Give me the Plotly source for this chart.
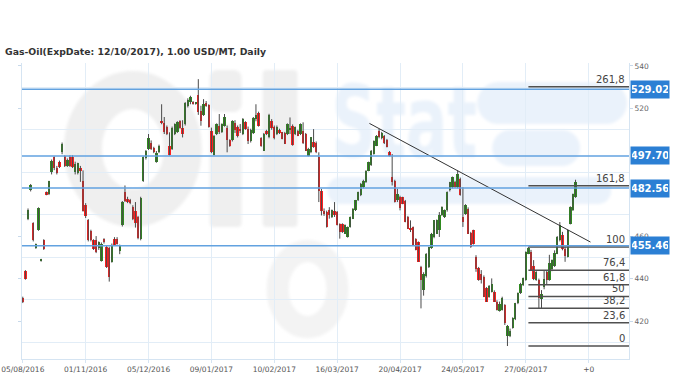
import base64
import plotly.graph_objects as go

# ---------------- data ----------------
title_text = "Gas-Oil(ExpDate: 12/10/2017), 1.00 USD/MT, Daily"

# OHLC per trading bar (bar index 0..211)
open_ = [431, 443.5, 468.2, 481.8, 466, 454.5, 462.8, 448.4, 458, 480.6,
         479.6, 490, 497, 492, 494.8, 499.4, 497.5, 493, 497.4, 497,
         490, 489.5, 492.1, 486, 474.5, 467.5, 462.5, 458, 458, 454.2,
         448.4, 458.4, 455, 454.2, 448, 458.8, 458.8, 453, 465, 480.7,
         477.6, 477, 473.7, 472, 469, 458.5, 486, 496.5, 501, 504,
         501.5, 495, 499.5, 514.2, 513, 511.5, 502.5, 501, 508, 509,
         514, 511, 512.7, 521, 523, 522.8, 522.3, 526.5, 519, 516.8,
         522.8, 521.5, 509.5, 498, 508, 512, 509, 512, 511, 505,
         505, 513, 511.5, 510, 508, 513.5, 510.5, 504.5, 508.5, 515,
         518, 506, 500.2, 509.5, 506.5, 514, 511.5, 508, 510, 508.8,
         508.5, 508, 510, 511.9, 508, 509.5, 508, 509.5, 508, 497.8,
         499.4, 504.1, 504, 497, 481, 472, 471.3, 472.5, 469, 472,
         471.3, 465.8, 465.5, 461.2, 459.6, 464.3, 468.2, 472.1, 476.8, 479.1,
         483, 485.4, 490.8, 493.2, 498.6, 502.5, 509.6, 506, 507, 505,
         499.4, 488, 486.1, 477, 478.3, 478.3, 476.5, 469, 464, 464.3,
         458.8, 457.2, 445.5, 434.6, 441, 445.6, 454.5, 459.6, 461.2, 462.7,
         469.8, 469, 472.1, 481.5, 483, 485.4, 483, 486.9, 469, 470.5,
         472.9, 461.5, 462.7, 450.2, 444.8, 442.4, 440.9, 435.4, 431.5, 433.8,
         433.8, 429.2, 425, 425.3, 427.6, 412.8, 412.8, 416.7, 421, 428.4,
         433.1, 437, 439.3, 451.8, 452.6, 446, 439.3, 439.3, 430.5, 436,
         443.2, 439.3, 444.5, 446, 451.8, 458, 460.4, 454, 450.2, 465.8,
         472.1, 478.3]
high = [431.5, 444, 473, 484.5, 466.5, 456.5, 473.5, 449.3, 458.5, 481,
        486, 496, 497.5, 493, 495.5, 504, 498, 496.5, 498, 498,
        495, 494.5, 493, 490.9, 475.5, 468, 463, 458.5, 460, 457.5,
        457, 459, 455.5, 455, 456.5, 459.5, 459.5, 456, 476.5, 483.8,
        478.5, 477.5, 474.5, 476, 469.5, 478.5, 497.5, 500.5, 508, 505,
        502, 500, 503, 522, 516, 512, 508.8, 511.5, 513, 514,
        514.5, 514.5, 523, 524.8, 526, 523.5, 523, 533.8, 521.3, 524.4,
        523.5, 522, 511, 507.5, 513, 517.4, 513, 517.4, 512, 505.5,
        514.5, 514.5, 512, 512.7, 515.5, 514, 511.5, 510.5, 516, 522,
        518.5, 506.5, 508.5, 510, 517.5, 515, 512, 512, 510.5, 509,
        509, 513, 515.8, 512.5, 511.5, 510, 513, 513.5, 508.5, 501.5,
        506.5, 510.3, 504.5, 499.4, 482.2, 473, 472, 473.6, 472.5, 476,
        471.8, 466, 466, 465.5, 464.5, 469.2, 473.2, 477, 480.9, 485,
        486.5, 491, 495, 500.5, 505, 507.5, 510.4, 509, 507.5, 505.7,
        500, 498.6, 486.5, 482.2, 479, 478.5, 477, 469.5, 467.4, 464.5,
        459, 457.5, 446, 443, 452, 455, 461.5, 467.5, 467.8, 471.3,
        474, 472.5, 481, 485.5, 488, 486, 490.8, 487.5, 483, 475,
        473.5, 462, 463, 451, 445.5, 444, 441.5, 436, 437, 440.1,
        434.5, 429.8, 429.2, 431.5, 428, 418.2, 416.5, 421.8, 428.6, 433.5,
        438, 440.5, 452.8, 454.86, 453.5, 448.7, 443.5, 440, 434.6, 444,
        444, 451.2, 449, 453.3, 460, 466.6, 462, 455, 463, 474,
        480, 486.5]
low = [428.5, 439.5, 467.5, 481, 457.5, 454, 462.5, 448, 453.5, 479.2,
       479.3, 489, 491, 489, 492, 498.5, 492.5, 492.5, 492.5, 492,
       489, 489, 485.5, 471.5, 468.5, 457.5, 457.5, 453.5, 452, 453.5,
       448, 456.5, 445, 438.6, 447.5, 455.5, 456, 451.5, 464.5, 476,
       475.5, 475, 467.5, 464, 458.5, 458, 485.5, 496, 500.5, 500.5,
       499, 494.5, 499, 512.6, 508, 507.5, 497.9, 500.5, 507.5, 508.5,
       510.5, 506.4, 512, 520.5, 522, 521.8, 521.8, 517, 511.9, 516.5,
       520.8, 511, 499, 497.9, 507.5, 508, 508.5, 511.5, 499.4, 502,
       504.5, 508.5, 506.4, 508.5, 507.5, 510, 503.3, 504, 508, 514,
       511.5, 502, 500, 507.5, 506, 510, 505.5, 507.5, 508, 505.5,
       503.3, 507.5, 508, 502.5, 507.5, 507, 507.5, 503.3, 500, 497.5,
       499, 501.5, 499, 476, 469.7, 469.5, 464, 468.2, 468.5, 469,
       465, 458.8, 461.5, 461, 459.3, 464, 468, 471.8, 476.5, 478.8,
       482.5, 485, 490.5, 493, 498.3, 502.3, 506, 505.5, 503.3, 501.7,
       497.5, 483.8, 475.8, 476, 472.1, 475, 466.5, 463.3, 461.9, 455.7,
       453.3, 447.9, 426, 432, 440.5, 445, 454, 459, 461, 459.6,
       469.5, 468.5, 471.5, 481, 482.5, 482.8, 482.5, 479, 464.3, 470,
       461, 454.5, 456, 443.2, 439, 437.7, 431.3, 429, 431, 433.5,
       429, 425, 424.5, 425, 418.2, 408.3, 412.5, 416.5, 420.5, 428,
       432.8, 436.5, 439, 451.5, 443.8, 439.3, 439, 426, 426, 435,
       437, 439, 443.5, 445.5, 451.5, 457.5, 453.3, 447.9, 450, 465.5,
       471.8, 478]
close = [429, 440, 472.4, 483.8, 458, 456.2, 473.2, 449, 453.7, 479.5,
         485.7, 495.5, 492, 489.5, 492.4, 503.4, 493, 496, 493, 492.5,
         494, 494.3, 490.8, 472, 469.5, 458, 458, 453.7, 452.6, 457,
         456.5, 457.3, 445.6, 440.9, 455.7, 455.7, 456.5, 455.5, 476, 476.5,
         476, 475.5, 468.2, 466, 459, 478, 497, 500, 506, 501,
         499.5, 499, 502.5, 513, 509, 508, 498, 511, 512.5, 513.5,
         511, 508, 522.8, 524, 525.5, 522.3, 522.6, 518.5, 514, 522,
         521, 511.5, 499.5, 507, 512.5, 509, 512.5, 516, 505, 502.5,
         514, 510, 507, 509.5, 515, 510.5, 504.5, 510, 515.5, 517,
         512, 502.5, 508, 508, 517, 511, 506, 511.5, 508.3, 505.8,
         503.5, 512.7, 511, 503, 511.1, 507.2, 512.7, 504, 500.2, 501,
         506.4, 501.7, 499.4, 481, 472, 470.5, 464.3, 469.7, 472.1, 470,
         465.1, 462, 461.9, 465.1, 464.3, 469, 472.9, 476.8, 480.7, 484.6,
         486.1, 490.8, 494.7, 500.2, 504.9, 507, 506.4, 508.5, 504, 501.8,
         497.8, 485.5, 476, 480, 473, 475.2, 466.8, 463.5, 463, 455.9,
         453.5, 448, 439.3, 442.4, 451.8, 454.9, 461, 467.4, 467.4, 469.8,
         473.6, 472.1, 480.7, 485.4, 487.7, 483, 489.3, 479.1, 466.6, 474.4,
         461.2, 455, 456.5, 444.5, 439.3, 439.3, 431.5, 429.2, 436.5, 437.7,
         429.2, 425.3, 428, 431, 419, 417.5, 415.5, 421.4, 428.4, 433.1,
         437.7, 440.1, 452.6, 454.6, 444, 440, 443.2, 430.7, 433, 440,
         439.3, 447.5, 448.7, 452, 459.6, 465, 454, 450.5, 462.7, 473.6,
         479.9, 485.5]

# x-axis tick labels every 24 bars
tick_pos = [0, 24, 48, 72, 96, 120, 144, 168, 192, 216]
tick_labels = ["05/08/2016", "01/11/2016", "05/12/2016", "09/01/2017", "10/02/2017",
               "16/03/2017", "20/04/2017", "24/05/2017", "27/06/2017", "+0"]

# right axis labels and offset grid
y_ticks = [420, 440, 460, 520, 540]
y_grid = [410, 430, 450, 470, 490, 510, 530]

# horizontal support / resistance levels (with price boxes)
levels = [529.02, 497.70, 482.56, 455.46]
level_labels = ["529.02", "497.70", "482.56", "455.46"]

# Fibonacci levels (price) with their labels, starting at the swing-high bar
fib_prices = [408.3, 419.3, 426.1, 431.6, 437.1, 443.9, 454.86, 483.63, 530.19]
fib_labels = ["0", "23,6", "38,2", "50", "61,8", "76,4", "100", "161,8", "261,8"]
fib_start_bar = 193

# trend line end points (bar index, price)
trend_x = [132.3, 216.7]
trend_y = [513.0, 457.2]

# ---------------- figure ----------------
X_MIN, X_MAX = -0.3, 231.4
Y_MIN, Y_MAX = 402.2, 541.4

n = len(close)
idx = list(range(n))

fig = go.Figure()

# background watermark (logo), drawn as a soft SVG image below the data
wm_svg = """<svg xmlns='http://www.w3.org/2000/svg' width='608' height='296' viewBox='0 0 608 296'>
<defs><filter id='b' x='-10%' y='-10%' width='120%' height='120%'><feGaussianBlur stdDeviation='1.5'/></filter></defs>
<g filter='url(#b)'>
<g fill='#efefef'>
<ellipse cx='111' cy='86' rx='50' ry='59' fill='none' stroke='#efefef' stroke-width='38'/>
<rect x='188' y='7' width='32' height='42' rx='8'/>
<rect x='188' y='61' width='32' height='103' rx='4'/>
<rect x='241' y='7' width='35' height='157' rx='4'/>
<ellipse cx='286' cy='226' rx='30' ry='38' fill='none' stroke='#f3f3f3' stroke-width='22'/>
</g>
<g fill='#eaf2fb'>
<rect x='456' y='19' width='150' height='42' rx='21'/>
<rect x='471' y='67' width='88' height='36' rx='18'/>
<rect x='306' y='114' width='284' height='27' rx='13'/>
<text x='310' y='94' font-family='DejaVu Sans' font-weight='bold' font-size='100' textLength='146' lengthAdjust='spacingAndGlyphs'>Stat</text>
</g>
</g>
</svg>"""
fig.add_layout_image(dict(
    source="data:image/svg+xml;base64," + base64.b64encode(wm_svg.encode()).decode(),
    xref="paper", yref="paper", x=0, y=1, sizex=1, sizey=1,
    xanchor="left", yanchor="top", sizing="stretch", layer="below"))

# wicks
wx, wy = [], []
for i in idx:
    wx += [i, i, None]
    wy += [low[i], high[i], None]
fig.add_trace(go.Scatter(x=wx, y=wy, mode="lines",
                         line=dict(color="#4a4a4a", width=1),
                         hoverinfo="skip", showlegend=False))

# bodies
base = [min(o, c) for o, c in zip(open_, close)]
height = [max(abs(c - o), 0.35) for o, c in zip(open_, close)]
colors = ["#2f8a1f" if c >= o else "#ff1f1f" for o, c in zip(open_, close)]
fig.add_trace(go.Bar(x=idx, y=height, base=base, width=0.9,
                     marker=dict(color=colors, line=dict(width=0)),
                     hoverinfo="skip", showlegend=False))

# horizontal levels
for lv in levels:
    fig.add_shape(type="line", xref="paper", x0=0, x1=1, yref="y", y0=lv, y1=lv,
                  line=dict(color="#62a2e0", width=1.5), layer="above")

# fib lines
for fp, fl in zip(fib_prices, fib_labels):
    fig.add_trace(go.Scatter(x=[fib_start_bar, X_MAX], y=[fp, fp], mode="lines",
                             line=dict(color="#505050", width=1.5),
                             hoverinfo="skip", showlegend=False))
    fig.add_annotation(x=1, xref="paper", xanchor="right", xshift=-2,
                       y=fp, yref="y", yanchor="bottom", yshift=0,
                       text=fl, showarrow=False,
                       font=dict(family="DejaVu Sans", size=10, color="#444"))

# trend line
fig.add_trace(go.Scatter(x=trend_x, y=trend_y, mode="lines",
                         line=dict(color="#333333", width=1),
                         hoverinfo="skip", showlegend=False))

# price boxes
for lv, lab in zip(levels, level_labels):
    fig.add_annotation(x=1, xref="paper", xanchor="left", xshift=1,
                       y=lv, yref="y", yanchor="middle",
                       text="<b>" + lab + "</b>", showarrow=False,
                       bgcolor="#2b7fd4", width=36, height=15,
                       font=dict(family="DejaVu Sans", size=10, color="white"))

# title
fig.add_annotation(x=-19 / 607, xref="paper", xanchor="left",
                   y=1 + 11.5 / 296, yref="paper", yanchor="middle",
                   text="<b>" + title_text + "</b>", showarrow=False,
                   font=dict(family="DejaVu Sans", size=9.3, color="#333"))

fig.update_layout(
    width=680, height=381,
    margin=dict(l=22, r=51, t=63, b=22, autoexpand=False),
    paper_bgcolor="white", plot_bgcolor="white",
    showlegend=False, bargap=0,
    xaxis=dict(range=[X_MIN, X_MAX], tickvals=tick_pos, ticktext=tick_labels,
               automargin=False,
               showgrid=True, gridcolor="#e2edf7", gridwidth=1,
               zeroline=False, showline=True, linecolor="#d5e4f2",
               ticks="outside", ticklen=3, tickcolor="#d5e4f2",
               tickfont=dict(family="DejaVu Sans", size=7.5, color="#555")),
    yaxis=dict(range=[Y_MIN, Y_MAX], side="right", tickvals=y_ticks,
               automargin=False,
               showgrid=False, zeroline=False, showline=True, linecolor="#d5e4f2",
               mirror="ticks", ticks="outside", ticklen=3, tickcolor="#c8d9ea",
               tickfont=dict(family="DejaVu Sans", size=7.5, color="#666"),
               minor=dict(tickvals=y_grid, showgrid=True, gridcolor="#e2edf7",
                          gridwidth=1, ticks="")),
)

fig.write_html("out.html")
